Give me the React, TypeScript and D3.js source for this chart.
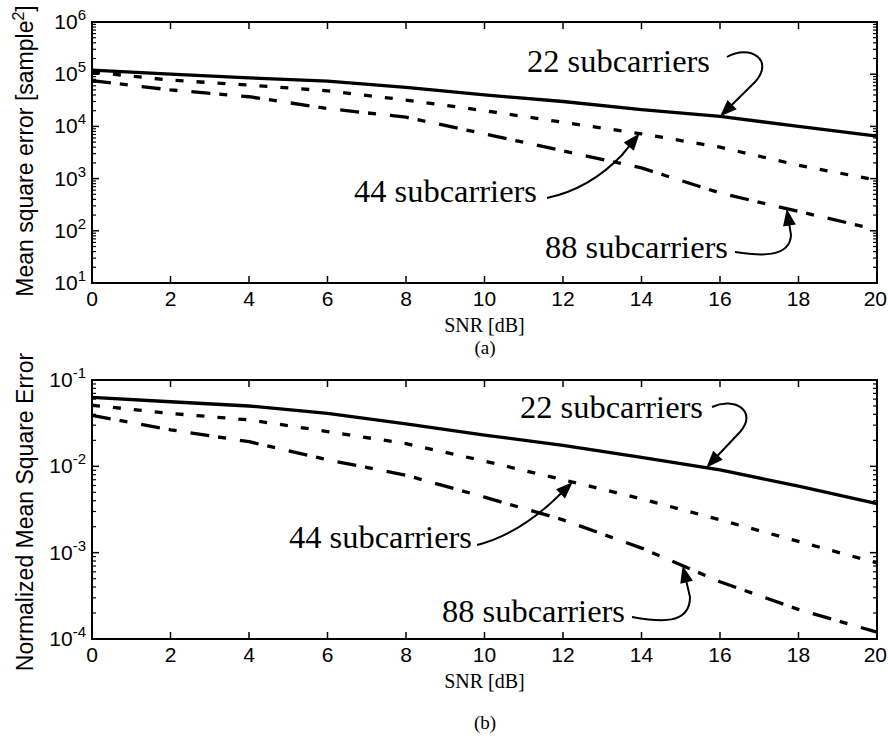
import React from "react";
import * as d3 from "d3";

const snr = [0, 2, 4, 6, 8, 10, 12, 14, 16, 18, 20];
const xTicks = [0, 2, 4, 6, 8, 10, 12, 14, 16, 18, 20];

// (a) Mean square error [sample^2]
const mseA22 = [1.2e5, 1.0e5, 8.5e4, 7.4e4, 5.6e4, 4.0e4, 3.0e4, 2.1e4, 1.55e4, 1.0e4, 6.5e3];
const mseA44 = [1.1e5, 7.7e4, 6.2e4, 4.8e4, 3.2e4, 2.0e4, 1.2e4, 7.2e3, 4.0e3, 1.8e3, 9.3e2];
const mseA88 = [7.5e4, 5.0e4, 3.7e4, 2.2e4, 1.5e4, 7.2e3, 3.4e3, 1.6e3, 5.3e2, 2.35e2, 1.05e2];
const yTicksA = [1, 2, 3, 4, 5, 6];

// (b) Normalized mean square error
const nmseB22 = [0.063, 0.056, 0.05, 0.041, 0.031, 0.023, 0.0175, 0.0127, 0.0091, 0.0059, 0.0037];
const nmseB44 = [0.051, 0.041, 0.0345, 0.0253, 0.0183, 0.0115, 0.007, 0.0042, 0.0024, 0.00135, 0.00076];
const nmseB88 = [0.039, 0.0265, 0.0193, 0.0119, 0.0079, 0.0044, 0.0024, 0.00113, 0.00046, 0.00022, 0.00012];
const yTicksB = [-4, -3, -2, -1];

const seriesLabels = ["22 subcarriers", "44 subcarriers", "88 subcarriers"];

const W = 888;
const H = 739;
const LEFT = 92;
const RIGHT = 877;

const SANS = "'Liberation Sans', Arial, Helvetica, sans-serif";
const SERIF = "'Liberation Serif', 'Times New Roman', serif";

const dashes = ["none", "8,13", "19,9,8,14"];

function valueAt(series: number[], s: number) {
  const i = Math.min(series.length - 2, Math.max(0, Math.floor(s / 2)));
  const t = (s - snr[i]) / (snr[i + 1] - snr[i]);
  const a = Math.log10(series[i]);
  const b = Math.log10(series[i + 1]);
  return Math.pow(10, a + (b - a) * t);
}

type Ann = {
  label: string;
  tx: number;
  ty: number;
  d: number[][];
  tipSnr: number;
  si: number;
};

function Panel({
  top,
  bottom,
  domain,
  exps,
  series,
  anns,
}: {
  top: number;
  bottom: number;
  domain: [number, number];
  exps: number[];
  series: number[][];
  anns: Ann[];
}) {
  const x = d3.scaleLinear().domain([0, 20]).range([LEFT, RIGHT]);
  const y = d3.scaleLog().domain(domain).range([bottom, top]);
  const line = d3
    .line<number>()
    .x((_, i) => x(snr[i]))
    .y((v) => y(v));

  const minor: number[] = [];
  for (let e = exps[0]; e < exps[exps.length - 1]; e++) {
    for (let m = 2; m <= 9; m++) minor.push(m * Math.pow(10, e));
  }

  return (
    <g>
      {series.map((s, k) => (
        <path
          key={k}
          d={line(s) || ""}
          fill="none"
          stroke="#000"
          strokeWidth={3.3}
          strokeDasharray={dashes[k]}
          strokeLinejoin="round"
        />
      ))}
      <rect
        x={LEFT}
        y={top}
        width={RIGHT - LEFT}
        height={bottom - top}
        fill="none"
        stroke="#000"
        strokeWidth={2}
      />
      {xTicks.map((t, i) => {
        const last = i === xTicks.length - 1;
        return (
          <g key={t}>
            <line x1={x(t)} x2={x(t)} y1={bottom} y2={bottom - 7} stroke="#000" strokeWidth={1.5} />
            <line x1={x(t)} x2={x(t)} y1={top} y2={top + 7} stroke="#000" strokeWidth={1.5} />
            <text
              x={last ? W - 1 : x(t)}
              y={bottom + 23}
              textAnchor={last ? "end" : "middle"}
              fontFamily={SANS}
              fontSize={21}
              fill="#000"
            >
              {t}
            </text>
          </g>
        );
      })}
      {exps.map((e) => {
        const yy = y(Math.pow(10, e));
        return (
          <g key={e}>
            <line x1={LEFT} x2={LEFT + 7} y1={yy} y2={yy} stroke="#000" strokeWidth={1.5} />
            <line x1={RIGHT} x2={RIGHT - 7} y1={yy} y2={yy} stroke="#000" strokeWidth={1.5} />
            <text
              x={86}
              y={yy + 7}
              textAnchor="end"
              fontFamily={SANS}
              fontSize={21}
              fill="#000"
            >
              10
              <tspan fontSize={15} dy={-9}>
                {e}
              </tspan>
            </text>
          </g>
        );
      })}
      {minor.map((v, i) => (
        <g key={"m" + i}>
          <line x1={LEFT} x2={LEFT + 4} y1={y(v)} y2={y(v)} stroke="#000" strokeWidth={1.2} />
          <line x1={RIGHT} x2={RIGHT - 4} y1={y(v)} y2={y(v)} stroke="#000" strokeWidth={1.2} />
        </g>
      ))}
      {anns.map((a, i) => {
        const tipX = x(a.tipSnr);
        const tipY = y(valueAt(series[a.si], a.tipSnr));
        const lastP = a.d[3];
        const dx = tipX - lastP[0];
        const dy = tipY - lastP[1];
        const len = Math.hypot(dx, dy);
        const ux = dx / len;
        const uy = dy / len;
        const hl = 17;
        const hw = 6.5;
        const bx = tipX - ux * hl;
        const by = tipY - uy * hl;
        const p = a.d;
        const pathD = `M${p[0][0]},${p[0][1]} C${p[1][0]},${p[1][1]} ${p[2][0]},${p[2][1]} ${p[3][0]},${p[3][1]} L${bx + ux * 2},${by + uy * 2}`;
        const head = `${tipX},${tipY} ${bx - uy * hw},${by + ux * hw} ${bx + uy * hw},${by - ux * hw}`;
        return (
          <g key={"a" + i}>
            <text
              x={a.tx}
              y={a.ty}
              textAnchor="end"
              fontFamily={SERIF}
              fontSize={31}
              textLength={183}
              lengthAdjust="spacingAndGlyphs"
              fill="#000"
            >
              {a.label}
            </text>
            <path d={pathD} fill="none" stroke="#000" strokeWidth={2} />
            <polygon points={head} fill="#000" />
          </g>
        );
      })}
      <text
        x={(LEFT + RIGHT) / 2}
        y={bottom + 49}
        textAnchor="middle"
        fontFamily={SERIF}
        fontSize={20}
        fill="#000"
      >
        SNR [dB]
      </text>
    </g>
  );
}

export default function App() {
  const annA: Ann[] = [
    { label: seriesLabels[0], tx: 710, ty: 72, d: [[727, 57], [750, 44], [775, 60], [755, 82]], tipSnr: 16.0, si: 0 },
    { label: seriesLabels[1], tx: 537, ty: 202, d: [[547, 198], [575, 192], [600, 178], [622, 155]], tipSnr: 13.95, si: 1 },
    { label: seriesLabels[2], tx: 728, ty: 258, d: [[735, 252], [760, 256], [790, 258], [791, 235]], tipSnr: 17.7, si: 2 },
  ];
  const annB: Ann[] = [
    { label: seriesLabels[0], tx: 703, ty: 418, d: [[712, 407], [735, 396], [758, 412], [740, 432]], tipSnr: 15.65, si: 0 },
    { label: seriesLabels[1], tx: 472, ty: 548, d: [[477, 545], [505, 538], [530, 522], [552, 502]], tipSnr: 12.25, si: 1 },
    { label: seriesLabels[2], tx: 625, ty: 622, d: [[632, 617], [660, 622], [690, 625], [690, 597]], tipSnr: 15.05, si: 2 },
  ];

  return (
    <svg
      width={W}
      height={H}
      viewBox={`0 0 ${W} ${H}`}
      style={{ position: "absolute", left: 0, top: 0, background: "#fff" }}
    >
      <rect width={W} height={H} fill="#fff" />
      <Panel
        top={22}
        bottom={283}
        domain={[10, 1e6]}
        exps={yTicksA}
        series={[mseA22, mseA44, mseA88]}
        anns={annA}
      />
      <Panel
        top={380}
        bottom={639}
        domain={[1e-4, 1e-1]}
        exps={yTicksB}
        series={[nmseB22, nmseB44, nmseB88]}
        anns={annB}
      />
      <text
        transform="translate(33,151) rotate(-90)"
        textAnchor="middle"
        fontFamily={SANS}
        fontSize={23}
        fill="#000"
      >
        Mean square error [sample
        <tspan fontSize={16} dy={-9}>
          2
        </tspan>
        <tspan dy={9}>]</tspan>
      </text>
      <text
        transform="translate(33,512) rotate(-90)"
        textAnchor="middle"
        fontFamily={SANS}
        fontSize={23}
        fill="#000"
      >
        Normalized Mean Square Error
      </text>
      <text x={485} y={354} textAnchor="middle" fontFamily={SERIF} fontSize={19} fill="#000">
        (a)
      </text>
      <text x={485} y={729} textAnchor="middle" fontFamily={SERIF} fontSize={19} fill="#000">
        (b)
      </text>
    </svg>
  );
}
